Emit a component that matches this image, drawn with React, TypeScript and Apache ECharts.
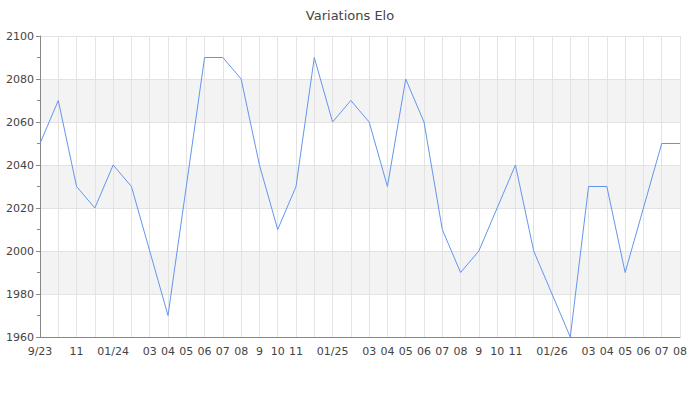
import React, { useEffect, useRef } from "react";
import * as echarts from "echarts";

const months: string[] = [
  "2023-09", "2023-10", "2023-11", "2023-12",
  "2024-01", "2024-02", "2024-03", "2024-04", "2024-05", "2024-06", "2024-07", "2024-08", "2024-09", "2024-10", "2024-11", "2024-12",
  "2025-01", "2025-02", "2025-03", "2025-04", "2025-05", "2025-06", "2025-07", "2025-08", "2025-09", "2025-10", "2025-11", "2025-12",
  "2026-01", "2026-02", "2026-03", "2026-04", "2026-05", "2026-06", "2026-07", "2026-08",
];

const tickLabels: string[] = [
  "9/23", "", "11", "",
  "01/24", "", "03", "04", "05", "06", "07", "08", "9", "10", "11", "",
  "01/25", "", "03", "04", "05", "06", "07", "08", "9", "10", "11", "",
  "01/26", "", "03", "04", "05", "06", "07", "08",
];

const elo: number[] = [
  2050, 2070, 2030, 2020,
  2040, 2030, 2000, 1970, 2030, 2090, 2090, 2080, 2040, 2010, 2030, 2090,
  2060, 2070, 2060, 2030, 2080, 2060, 2010, 1990, 2000, 2020, 2040, 2000,
  1980, 1960, 2030, 2030, 1990, 2020, 2050, 2050,
];

const FONT = "DejaVu Sans";

export default function App() {
  const ref = useRef<HTMLDivElement>(null);
  useEffect(() => {
    if (!ref.current) return;
    const chart = echarts.init(ref.current, undefined, { renderer: "svg" });
    chart.setOption({
      animation: false,
      textStyle: { fontFamily: FONT },
      title: {
        text: "Variations Elo",
        left: "center",
        top: 4,
        textStyle: { fontFamily: FONT, fontSize: 13, fontWeight: "normal", color: "#444" },
      },
      grid: { left: 40, right: 20, top: 36, bottom: 63, containLabel: false },
      xAxis: {
        type: "category",
        data: months,
        boundaryGap: false,
        axisLine: { show: true, lineStyle: { color: "#888", width: 1 } },
        axisTick: { show: false },
        axisLabel: {
          interval: 0,
          color: "#444",
          fontSize: 11,
          fontFamily: FONT,
          margin: 9,
          formatter: (_v: string, i: number) => tickLabels[i],
        },
        splitLine: { show: true, interval: 0, lineStyle: { color: "#e3e3e3", width: 1 } },
      },
      yAxis: {
        type: "value",
        min: 1960,
        max: 2100,
        interval: 20,
        axisLine: { show: true, lineStyle: { color: "#888", width: 1 } },
        axisTick: { show: true, length: 4, lineStyle: { color: "#888" } },
        minorTick: { show: true, splitNumber: 2, length: 3, lineStyle: { color: "#888" } },
        axisLabel: {
          color: "#444",
          fontSize: 11,
          fontFamily: FONT,
          margin: 6,
          formatter: (v: number) => String(v),
        },
        splitLine: { show: true, lineStyle: { color: "#e3e3e3", width: 1 } },
        splitArea: { show: true, areaStyle: { color: ["#ffffff", "#f3f3f3"] } },
      },
      series: [
        {
          type: "line",
          data: elo,
          symbol: "none",
          lineStyle: { color: "#6495ed", width: 1 },
          itemStyle: { color: "#6495ed" },
        },
      ],
    });
    return () => chart.dispose();
  }, []);
  return <div ref={ref} style={{ width: 700, height: 400, position: "absolute", left: 0, top: 0 }} />;
}
